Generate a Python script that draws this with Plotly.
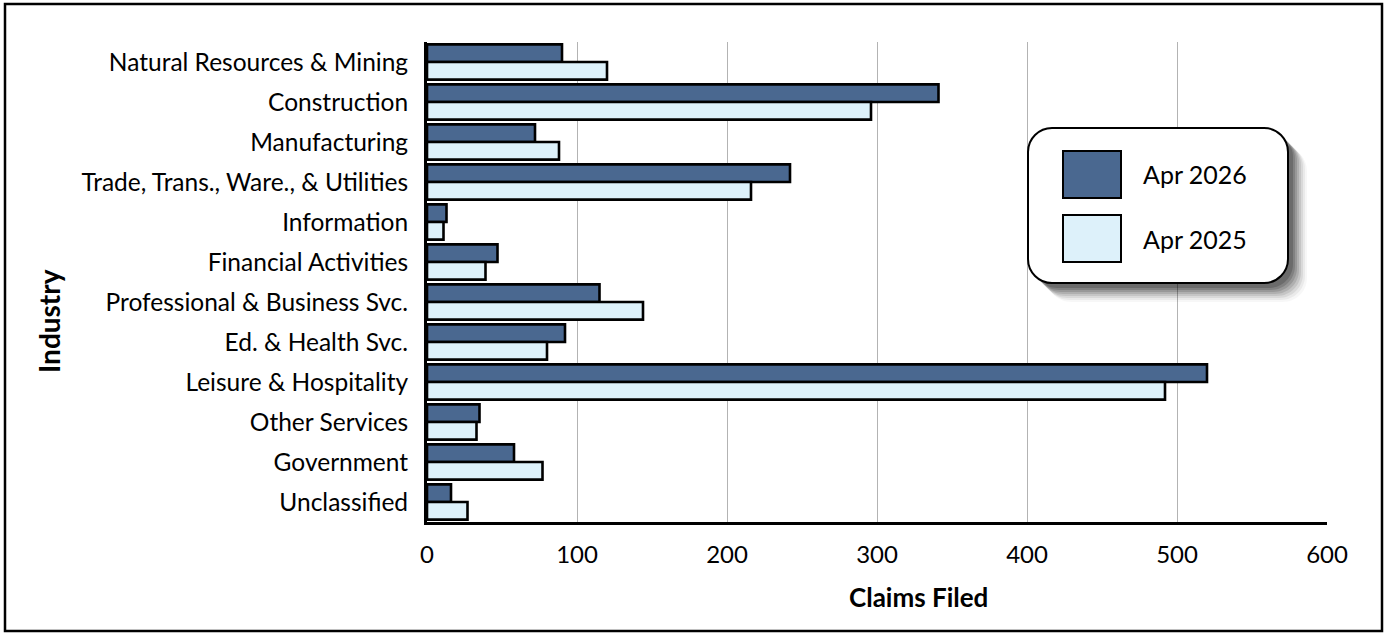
import plotly.graph_objects as go

categories = [
    "Natural Resources & Mining",
    "Construction",
    "Manufacturing",
    "Trade, Trans., Ware., & Utilities",
    "Information",
    "Financial Activities",
    "Professional & Business Svc.",
    "Ed. & Health Svc.",
    "Leisure & Hospitality",
    "Other Services",
    "Government",
    "Unclassified",
]
series_names = ["Apr 2026", "Apr 2025"]
apr_2026 = [90, 341, 72, 242, 13, 47, 115, 92, 520, 35, 58, 16]
apr_2025 = [120, 296, 88, 216, 11, 39, 144, 80, 492, 33, 77, 27]
x_ticks = [0, 100, 200, 300, 400, 500, 600]

DARK = "#4A6890"
LIGHT = "#DDF1FA"
FONT = "Lato"

W, H = 1390, 636
L, R, T, B = 427, 63, 42, 114
PW, PH = W - L - R, H - T - B


def px(x):
    return (x - L) / PW


def py(y):
    return (H - B - y) / PH


def rrect(x0, y0, x1, y1, r):
    k = 0.45
    return (
        f"M {px(x0 + r)} {py(y0)} L {px(x1 - r)} {py(y0)} "
        f"C {px(x1 - r * k)} {py(y0)} {px(x1)} {py(y0 + r * k)} {px(x1)} {py(y0 + r)} "
        f"L {px(x1)} {py(y1 - r)} "
        f"C {px(x1)} {py(y1 - r * k)} {px(x1 - r * k)} {py(y1)} {px(x1 - r)} {py(y1)} "
        f"L {px(x0 + r)} {py(y1)} "
        f"C {px(x0 + r * k)} {py(y1)} {px(x0)} {py(y1 - r * k)} {px(x0)} {py(y1 - r)} "
        f"L {px(x0)} {py(y0 + r)} "
        f"C {px(x0)} {py(y0 + r * k)} {px(x0 + r * k)} {py(y0)} {px(x0 + r)} {py(y0)} Z"
    )


fig = go.Figure()
fig.add_trace(go.Bar(
    y=categories, x=apr_2026, name=series_names[0], orientation="h",
    marker=dict(color=DARK, line=dict(color="black", width=2.6)),
))
fig.add_trace(go.Bar(
    y=categories, x=apr_2025, name=series_names[1], orientation="h",
    marker=dict(color=LIGHT, line=dict(color="black", width=2.6)),
))

shapes = []
# outer frame
shapes.append(dict(type="rect", xref="paper", yref="paper",
                   x0=px(5), x1=px(1382), y0=py(4), y1=py(631),
                   line=dict(color="black", width=2.5), fillcolor="rgba(0,0,0,0)", layer="below"))
# legend shadow
lx0, ly0, lx1, ly1 = 1028, 128, 1288, 283
for d, op in [(19, 0.03), (17, 0.05), (15, 0.07), (13, 0.09), (11, 0.11), (9, 0.13), (7, 0.15), (5, 0.17)]:
    shapes.append(dict(type="path", xref="paper", yref="paper",
                       path=rrect(lx0 + d, ly0 + d, lx1 + d, ly1 + d, 24),
                       fillcolor=f"rgba(0,0,0,{op})", line=dict(width=0), layer="above"))
shapes.append(dict(type="path", xref="paper", yref="paper",
                   path=rrect(lx0, ly0, lx1, ly1, 24),
                   fillcolor="white", line=dict(color="black", width=2), layer="above"))
# legend swatches
swatch_y = [(151, 198), (215, 262)]
for (y0, y1), col in zip(swatch_y, [DARK, LIGHT]):
    shapes.append(dict(type="rect", xref="paper", yref="paper",
                       x0=px(1063), x1=px(1121), y0=py(y1), y1=py(y0),
                       fillcolor=col, line=dict(color="black", width=2), layer="above"))

annotations = []
for (y0, y1), name in zip(swatch_y, series_names):
    annotations.append(dict(xref="paper", yref="paper", x=px(1141), y=py((y0 + y1) / 2),
                            text=name, showarrow=False, xanchor="left", yanchor="middle",
                            font=dict(family=FONT, size=25, color="black")))
annotations.append(dict(xref="paper", yref="paper", x=px(918), y=py(597), text="<b>Claims Filed</b>",
                        showarrow=False, xanchor="center", yanchor="middle",
                        font=dict(family=FONT, size=26, color="black")))
annotations.append(dict(xref="paper", yref="paper", x=px(49), y=py(321), text="<b>Industry</b>",
                        showarrow=False, xanchor="center", yanchor="middle", textangle=-90,
                        font=dict(family=FONT, size=28, color="black")))

fig.update_layout(
    width=W, height=H,
    margin=dict(l=L, r=R, t=T, b=B, pad=0),
    paper_bgcolor="white", plot_bgcolor="white",
    barmode="group", bargap=0.12, bargroupgap=0,
    showlegend=False,
    shapes=shapes, annotations=annotations,
    font=dict(family=FONT, size=24, color="black"),
)
fig.update_xaxes(
    range=[0, 600], tickvals=x_ticks, ticktext=[str(v) for v in x_ticks],
    showgrid=True, gridcolor="#B3B3B3", gridwidth=1.3,
    showline=True, linecolor="black", linewidth=3, mirror=False,
    ticks="", ticklabelstandoff=9, zeroline=False,
    tickfont=dict(family=FONT, size=24, color="black"),
)
fig.update_yaxes(
    autorange="reversed", categoryorder="array", categoryarray=categories,
    showgrid=False, showline=True, linecolor="black", linewidth=3,
    ticks="", ticklabelstandoff=11,
    tickfont=dict(family=FONT, size=24.5, color="black"),
)

fig.write_html("out.html", config={"displayModeBar": False},
               post_script="document.body.style.margin='0px';")
